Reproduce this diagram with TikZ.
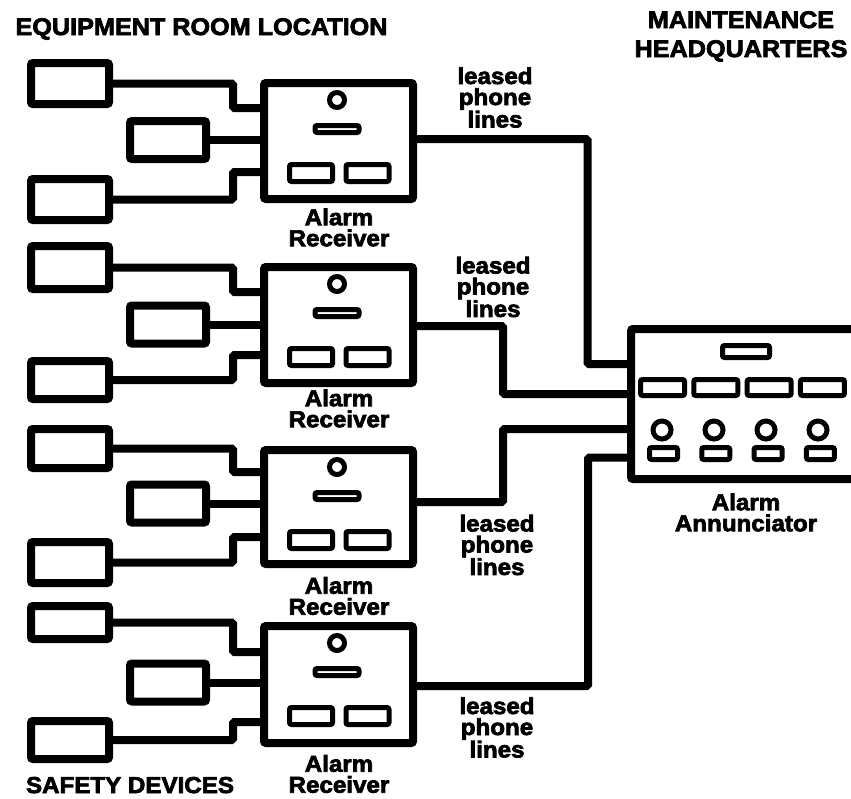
\documentclass[tikz,border=0pt]{standalone}
\usepackage{fontspec}
\setmainfont{Liberation Sans}[BoldFeatures={FakeBold=3,FakeStretch=1.05}]
\begin{document}
\begin{tikzpicture}[x=1pt,y=-1pt]
\tikzset{
 link/.style={line width=8pt, rounded corners=1.5pt},
 dev/.style={draw, line width=8pt, rectangle, rounded corners=2pt, minimum width=78pt, inner sep=0pt},
 rcv/.style={draw, line width=8pt, rectangle, rounded corners=2pt, minimum width=149pt, inner sep=0pt},
 knob/.style={draw, circle, line width=5pt, inner sep=0pt},
 slotbox/.style={draw, line width=5pt, rectangle, rounded corners=2pt, inner sep=0pt},
 lbl/.style={font=\bfseries\fontsize{23}{21}\selectfont, align=center, inner sep=0pt},
 ttl/.style={font=\bfseries\fontsize{24}{24}\selectfont, inner sep=0pt, anchor=base},
}
\useasboundingbox (0,0) rectangle (851,798);
\fill[white] (0,0) rectangle (851,798);
\clip (0,0) rectangle (851,798);

% titles
\node[ttl] (tequip) at (201.5,35) {EQUIPMENT ROOM LOCATION};
\node[ttl] (tmaint) at (741,28) {MAINTENANCE};
\node[ttl] (thq) at (741,57) {HEADQUARTERS};
\node[ttl, font=\bfseries\fontsize{23}{23}\selectfont] (tsafe) at (130,793) {SAFETY DEVICES};

% receivers with their safety devices
\foreach \k/\T/\B/\sa/\ha/\sb/\sc/\hc/\ja/\jc/\ly in {
 1/79/203/83.5/41/140/199.5/41/108/172/227.5,
 2/263/387/267.5/43/324.5/380/38/292/355/408.5,
 3/446/568/448.5/39/503.5/562.5/41/472/537/596,
 4/622/747/622.5/33/682.5/740/38/652/722/774}
{
 \pgfmathsetmacro\rh{\B-\T-8}
 \pgfmathsetmacro\rc{(\T+\B)/2}
 \node[rcv, minimum height=\rh] (r\k) at (338.5,\rc) {};
 \node[knob, minimum size=15pt] (k\k) at (337,{\T+21}) {};
 \node[slotbox, minimum width=44pt, minimum height=7pt] (sl\k) at (337,{\T+50}) {};
 \node[slotbox, minimum width=43pt, minimum height=17pt] (ba\k) at (311,{\T+94}) {};
 \node[slotbox, minimum width=43pt, minimum height=17pt] (bb\k) at (367.5,{\T+94}) {};
 \node[lbl] (lab\k) at (339,\ly) {Alarm\\Receiver};
 \node[dev, minimum height=\ha] (da\k) at (70,\sa) {};
 \node[dev, minimum width=76pt, minimum height=38pt] (db\k) at (168,\sb) {};
 \node[dev, minimum height=\hc] (dc\k) at (70,\sc) {};
 \draw[link] (da\k.east) -| (233,\ja) -- (r\k.west |- 0,\ja);
 \draw[link] (db\k.east) -- (r\k.west |- db\k.east);
 \draw[link] (dc\k.east) -| (233,\jc) -- (r\k.west |- 0,\jc);
}

% annunciator
\node[draw, line width=8pt, rectangle, rounded corners=2pt, minimum width=249pt, minimum height=150pt, inner sep=0pt] (ann) at (755.5,404) {};
\node[slotbox, minimum width=47pt, minimum height=12pt] (aslot) at (746,351.5) {};
\foreach \i in {0,1,2,3}{
 \node[slotbox, minimum width=44pt, minimum height=16pt] (abtn\i) at ({662.5+53.3*\i},387.5) {};
 \node[knob, minimum size=18pt] (aknob\i) at ({662+52*\i},430) {};
 \node[slotbox, minimum width=28pt, minimum height=12pt] (asml\i) at ({663.5+52.3*\i},453.5) {};
}
\node[lbl] (annlab) at (746,512.5) {Alarm\\Annunciator};

% leased lines
\draw[link] (r1.east |- 0,139) -- (587.5,139) -- (587.5,364) -- (ann.west |- 0,364);
\draw[link] (r2.east |- 0,326) -- (503,326) -- (503,394) -- (ann.west |- 0,394);
\draw[link] (r3.east |- 0,502) -- (503,502) -- (503,429) -- (ann.west |- 0,429);
\draw[link] (r4.east |- 0,686) -- (588,686) -- (588,457.5) -- (ann.west |- 0,457.5);

\node[lbl] (lp1) at (495,97.5) {leased\\phone\\lines};
\node[lbl] (lp2) at (493,287) {leased\\phone\\lines};
\node[lbl] (lp3) at (497,545) {leased\\phone\\lines};
\node[lbl] (lp4) at (497,727.5) {leased\\phone\\lines};
\end{tikzpicture}
\end{document}
